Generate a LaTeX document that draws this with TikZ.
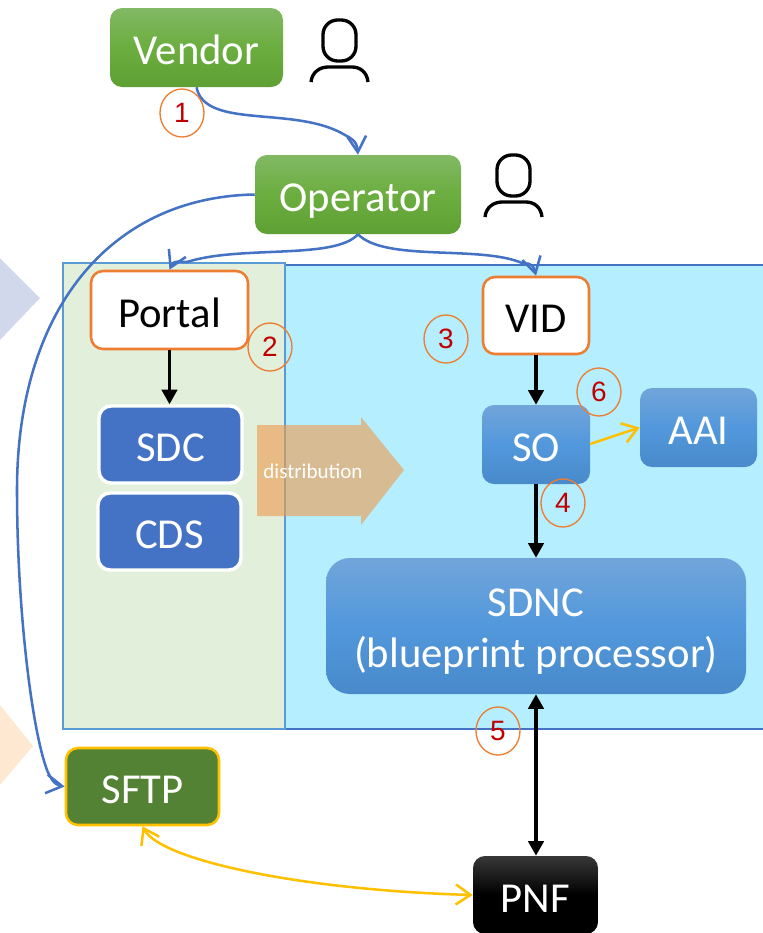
\documentclass[tikz,border=0pt]{standalone}
\usepackage{fontspec}
\setmainfont{Carlito}
\newfontfamily\numfont{Liberation Sans}
\usetikzlibrary{arrows.meta,shadows,shapes.geometric}
\definecolor{vgTop}{HTML}{82B964}
\definecolor{vgMid}{HTML}{6BAD3F}
\definecolor{vgBot}{HTML}{5FA034}
\definecolor{vbTop}{HTML}{71A5DA}
\definecolor{vbMid}{HTML}{5298DC}
\definecolor{vbBot}{HTML}{488ACA}
\definecolor{lineBlue}{HTML}{4472C4}
\definecolor{edgeBlue}{HTML}{5B9BD5}
\definecolor{paleGreen}{HTML}{E2EFDA}
\definecolor{paleCyan}{HTML}{B5EFFF}
\definecolor{vOrange}{HTML}{ED7D31}
\definecolor{vGold}{HTML}{FFC000}
\definecolor{numRed}{HTML}{C00000}
\definecolor{sftpGreen}{HTML}{548235}
\definecolor{triBlue}{HTML}{D2D8EC}
\definecolor{triOrange}{HTML}{FEE8D2}
\definecolor{distOrange}{HTML}{ED9C50}
\pgfdeclarelayer{back}
\pgfdeclarelayer{mid}
\pgfsetlayers{back,mid,main}
\tikzset{
  sz/.style 2 args={minimum width=#1*0.75pt,minimum height=#2*0.75pt,inner sep=0pt},
  basebox/.style={rectangle,rounded corners=9pt,align=center,text=white,font=\fontsize{32}{38}\selectfont},
  greenbox/.style={basebox,top color=vgTop,bottom color=vgBot,middle color=vgMid},
  bluebox/.style={basebox,top color=vbTop,bottom color=vbBot,middle color=vbMid},
  whitebox/.style={basebox,fill=white,draw=vOrange,line width=1.9pt,text=black},
  darkbox/.style={basebox,fill=lineBlue,draw=white,line width=2.6pt},
  lowtext/.style={text height=26pt,text depth=0pt},
  numcircle/.style={ellipse,draw=vOrange,line width=1pt,minimum width=33pt,minimum height=36pt,inner sep=0pt,text=numRed,font=\numfont\fontsize{21}{24}\selectfont},
  curveblue/.style={draw=lineBlue,line width=1.9pt,-{Straight Barb[length=12pt,width=14pt,line width=1.9pt]}},
  curvegold/.style={draw=vGold,line width=1.9pt},
  blackarrow/.style={draw=black,line width=2.6pt},
  person/.pic={
    \draw[line width=2.5pt,rounded corners=11pt] (323,20) rectangle (356,61);
    \draw[line width=2.5pt] (311,82) .. controls (312,72) and (320,67) .. (328,67) -- (352,67) .. controls (360,67) and (367,72) .. (368,82);
  }
}
\begin{document}
\begin{tikzpicture}[x=0.75pt,y=-0.75pt]
\useasboundingbox (0,0) rectangle (763,933);
\clip (0,0) rectangle (763,933);
\begin{pgfonlayer}{back}
\fill[triBlue] (0,258) -- (40,298) -- (0,340) -- cycle;
\fill[triOrange] (0,705) -- (33,746) -- (0,785) -- cycle;
\draw[fill=paleCyan,draw=lineBlue,line width=0.85pt] (285,265) rectangle (770,729);
\draw[fill=paleGreen,draw=edgeBlue,line width=0.85pt] (63,263) rectangle (285,729);
\end{pgfonlayer}
\node[greenbox,sz={173}{79},lowtext] (vendor) at (196.5,47.5) {Vendor};
\node[greenbox,sz={206}{79},lowtext] (operator) at (358,194.5) {Operator};
\node[whitebox,sz={157}{78},lowtext] (portal) at (169.5,310) {Portal};
\node[whitebox,sz={106}{77},lowtext] (vid) at (536,315.5) {VID};
\node[darkbox,sz={143}{77},lowtext] (sdc) at (170.5,444.5) {SDC};
\node[darkbox,sz={143}{77},lowtext] (cds) at (169.5,531.5) {CDS};
\node[bluebox,sz={108}{79},lowtext] (so) at (536,444.5) {SO};
\node[bluebox,sz={117}{79},lowtext] (aai) at (698.5,427.5) {AAI};
\node[bluebox,sz={420}{136},rounded corners=18pt] (sdnc) at (536,626) {\rule{0pt}{29.5pt}SDNC\\(blueprint processor)};
\node[basebox,sz={153}{77},fill=sftpGreen,draw=vGold,line width=1.9pt,lowtext] (sftp) at (142.5,786.5) {SFTP};
\node[basebox,sz={125}{78},top color=black!78,bottom color=black,middle color=black,lowtext,drop shadow={shadow xshift=0pt,shadow yshift=0pt,opacity=.25}] (pnf) at (535.5,895) {PNF};
\path[fill=distOrange,opacity=0.62] (257,425) -- (361,425) -- (361,417) -- (404,470) -- (361,525) -- (361,516) -- (257,516) -- cycle;
\node[text=white,font=\fontsize{15.8}{18}\selectfont] (dist) at (313,471) {distribution};
\pic at (0,0) {person};
\pic at (174,135) {person};
\begin{pgfonlayer}{mid}
\draw[curveblue] (operator.west) .. controls (110,197) and (17,310) .. (17,490) .. controls (17,610) and (32,730) .. (47,770) .. controls (50,777) and (54,785) .. (sftp.west);
\end{pgfonlayer}
\draw[curveblue] (vendor.south) .. controls (205,130) and (295,105) .. (345,135) .. controls (350,138) and (357,140) .. (operator.north);
\draw[curveblue] (operator.south) .. controls (335,260) and (240,245) .. (187,262) .. controls (182,263) and (175,258) .. (portal.north);
\draw[curveblue] (operator.south) .. controls (385,262) and (480,245) .. (522,263) .. controls (526,265) and (532,260) .. (vid.north);
\draw[blackarrow,-{Triangle[length=11pt,width=11.5pt]}] (portal.south) -- (sdc.north -| portal.south);
\draw[blackarrow,-{Triangle[length=11pt,width=11.5pt]}] (vid.south) -- (so.north);
\draw[blackarrow,-{Triangle[length=11pt,width=11.5pt]}] (so.south) -- (sdnc.north);
\draw[blackarrow,{Triangle[length=11pt,width=11.5pt]}-{Triangle[length=11pt,width=11.5pt]}] (sdnc.south) -- (pnf.north -| sdnc.south);
\draw[curvegold,{Straight Barb[length=11pt,width=15pt,line width=1.9pt]}-{Straight Barb[length=11pt,width=15pt,line width=1.9pt]}] (sftp.south) .. controls (160,860) and (300,890) .. (pnf.west);
\draw[curvegold,-{Straight Barb[length=11pt,width=15pt,line width=1.9pt]}] (590,444) -- (aai.west);
\node[numcircle] (n1) at (182,113) {1};
\node[numcircle] (n2) at (270,347) {2};
\node[numcircle] (n3) at (446,339) {3};
\node[numcircle] (n4) at (563,503) {4};
\node[numcircle] (n5) at (498,731) {5};
\node[numcircle] (n6) at (599,392) {6};
\end{tikzpicture}
\end{document}
